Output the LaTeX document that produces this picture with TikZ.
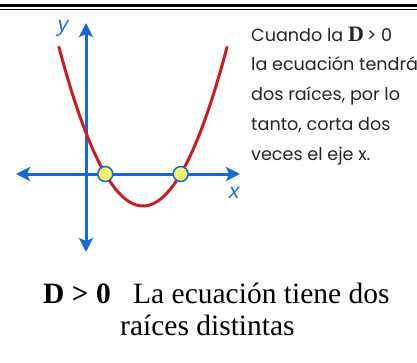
\documentclass[tikz,border=0pt]{standalone}
\usepackage{fontspec}
\usepackage{tikz}
\usetikzlibrary{arrows.meta}
\newfontfamily\descfont{Poppins}
\newfontfamily\serfont{Liberation Serif}
\newfontfamily\axisfont[FakeSlant=0.2]{Open Sans}
\definecolor{axisblue}{RGB}{22,108,200}
\definecolor{curvered}{RGB}{200,30,35}
\definecolor{rootyellow}{RGB}{245,240,110}

\begin{document}
\begin{tikzpicture}[x=1pt, y=-1pt,
  axisline/.style={line width=3pt, draw=axisblue,
    {Stealth[length=14pt,width=14pt,inset=3pt]}-{Stealth[length=14pt,width=14pt,inset=3pt]}},
  curveline/.style={line width=3pt, draw=curvered, line cap=round},
  rootdot/.style={circle, draw=axisblue, line width=1.5pt, fill=rootyellow, minimum size=15pt, inner sep=0pt},
  axislabel/.style={text=axisblue, font=\axisfont\fontsize{21}{21}\selectfont, inner sep=0pt},
  desc/.style={anchor=base west, inner sep=0pt, text=black!85, font=\descfont\fontsize{17.6}{20}\selectfont},
  caption/.style={anchor=base west, inner sep=0pt, font=\serfont\fontsize{29.5}{32}\selectfont},
]
\useasboundingbox[fill=white] (0,0) rectangle (417,362);

% double rule on top
\draw[line width=3pt] (0,5.8) -- (417,5.8);
\draw[line width=1pt] (0,9.2) -- (417,9.2);

% axes
\coordinate (xl) at (16,174);
\coordinate (xr) at (240,174);
\coordinate (yb) at (86,252);
\coordinate (yt) at (86,23);
\draw[axisline] (xl) -- (xr);
\draw[axisline] (yb) -- (yt);
\node[axislabel] (ylab) at (62,28) {y};
\node[axislabel] (xlab) at (233,193) {x};

% parabola and its roots
\draw[curveline] plot[domain=59:227, samples=80] (\x, {206-0.0225*(\x-143)^2});
\node[rootdot] (r1) at (105.3,174) {};
\node[rootdot] (r2) at (180.7,174) {};

% side text
\node[desc] (d1) at (251,41) {Cuando la {\serfont\bfseries\fontsize{22}{22}\selectfont D}\,> 0};
\node[desc] (d2) at (251,70.75) {la ecuación tendrá};
\node[desc] (d3) at (251,100.5) {dos raíces, por lo};
\node[desc] (d4) at (251,130.25) {tanto, corta dos};
\node[desc] (d5) at (251,160) {veces el eje x.};

% caption
\node[caption, font=\serfont\bfseries\fontsize{29.5}{32}\selectfont] (cap0) at (43,303) {D > 0};
\node[caption] (cap1) at (133,303) {La ecuación tiene dos};
\node[caption] (cap2) at (120,335) {raíces distintas};
\end{tikzpicture}
\end{document}
